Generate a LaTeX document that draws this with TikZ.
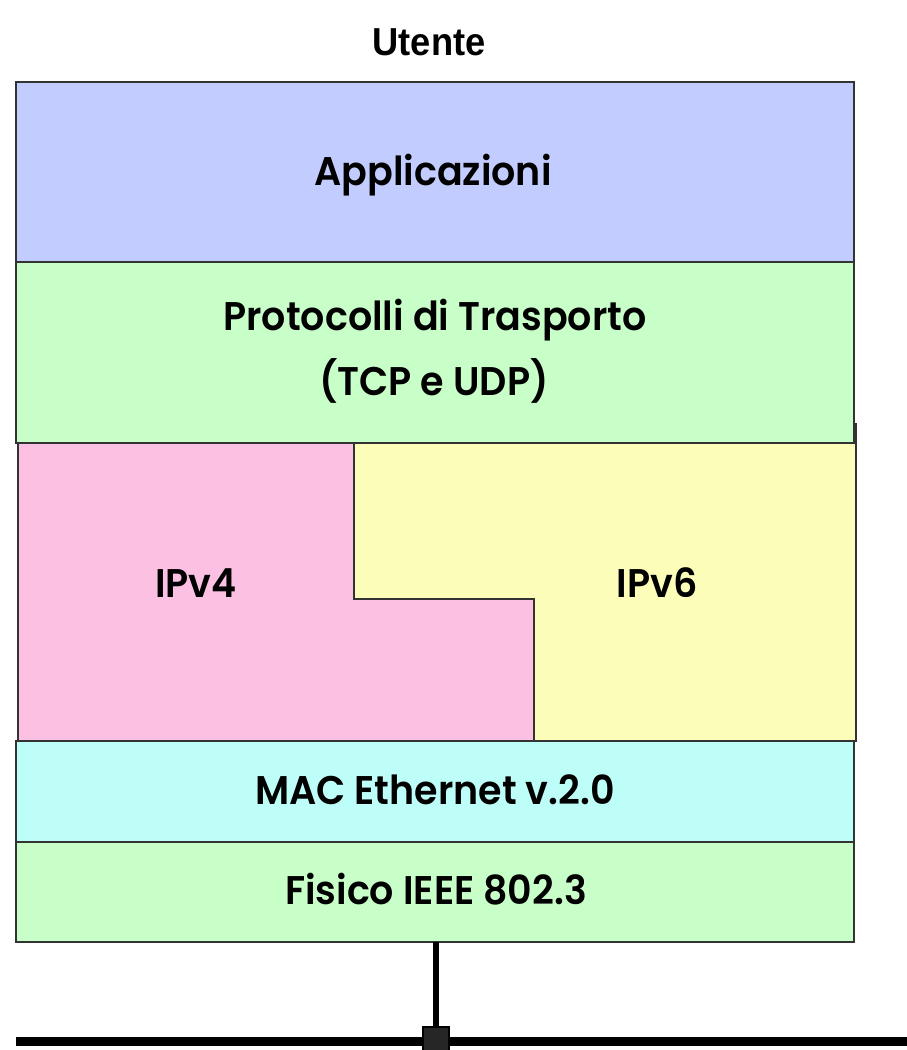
\documentclass[tikz,border=0pt]{standalone}
\usepackage{fontspec}
\newfontfamily\labfont{Poppins SemiBold}[FakeStretch=0.95]
\newfontfamily\topfont{Liberation Sans Bold}[FakeStretch=0.93]
\definecolor{cApp}{HTML}{C3CCFE}
\definecolor{cGreen}{HTML}{C8FEC8}
\definecolor{cPink}{HTML}{FBC0E2}
\definecolor{cYellow}{HTML}{FDFDBA}
\definecolor{cCyan}{HTML}{BEFEF9}
\definecolor{cEdge}{HTML}{333333}
\begin{document}
\begin{tikzpicture}[x=1pt,y=-1pt,
  layer/.style={draw=cEdge,line width=2pt},
  lab/.style={font=\labfont\fontsize{40}{40}\selectfont,anchor=base,inner sep=0pt},
  toplab/.style={font=\topfont\fontsize{39}{39}\selectfont,anchor=base,inner sep=0pt}]
\useasboundingbox (0,0) rectangle (907,1050);
\fill[white] (0,0) rectangle (907,1050);
% layers
\path[layer,fill=cApp] (16,82) rectangle (854,262);
\path[layer,fill=cGreen] (16,262) rectangle (854,443);
\draw[cEdge,line width=2pt] (856,423) -- (856,443);
\path[layer,fill=cPink] (18,443) -- (354,443) -- (354,599) -- (534,599) -- (534,741) -- (18,741) -- cycle;
\path[layer,fill=cYellow] (354,443) -- (856,443) -- (856,741) -- (534,741) -- (534,599) -- (354,599) -- cycle;
\path[layer,fill=cCyan] (16,741) rectangle (854,842);
\path[layer,fill=cGreen] (16,842) rectangle (854,942);
% labels
\node[toplab] (utente) at (429,55) {Utente};
\node[lab] (app) at (433,185) {Applicazioni};
\node[lab] (tr1) at (435,330) {Protocolli di Trasporto};
\node[lab] (tr2) at (434,395) {(TCP e UDP)};
\node[lab] (ip4) at (196,597) {IPv4};
\node[lab] (ip6) at (657,597) {IPv6};
\node[lab] (mac) at (435,804) {MAC Ethernet v.2.0};
\node[lab] (fis) at (436,904) {Fisico IEEE 802.3};
% bus
\coordinate (phy) at (436,942);
\coordinate (tap) at (436,1041);
\coordinate (busL) at (16,1041.5);
\coordinate (busR) at (907,1041.5);
\draw[black,line width=9pt] (busL) -- (busR);
\draw[black,line width=6pt] (phy) -- (tap);
\node[draw=black,fill=black!85,line width=2pt,minimum width=26pt,minimum height=26pt,inner sep=0pt] (tapbox) at (436,1040) {};
\end{tikzpicture}
\end{document}
